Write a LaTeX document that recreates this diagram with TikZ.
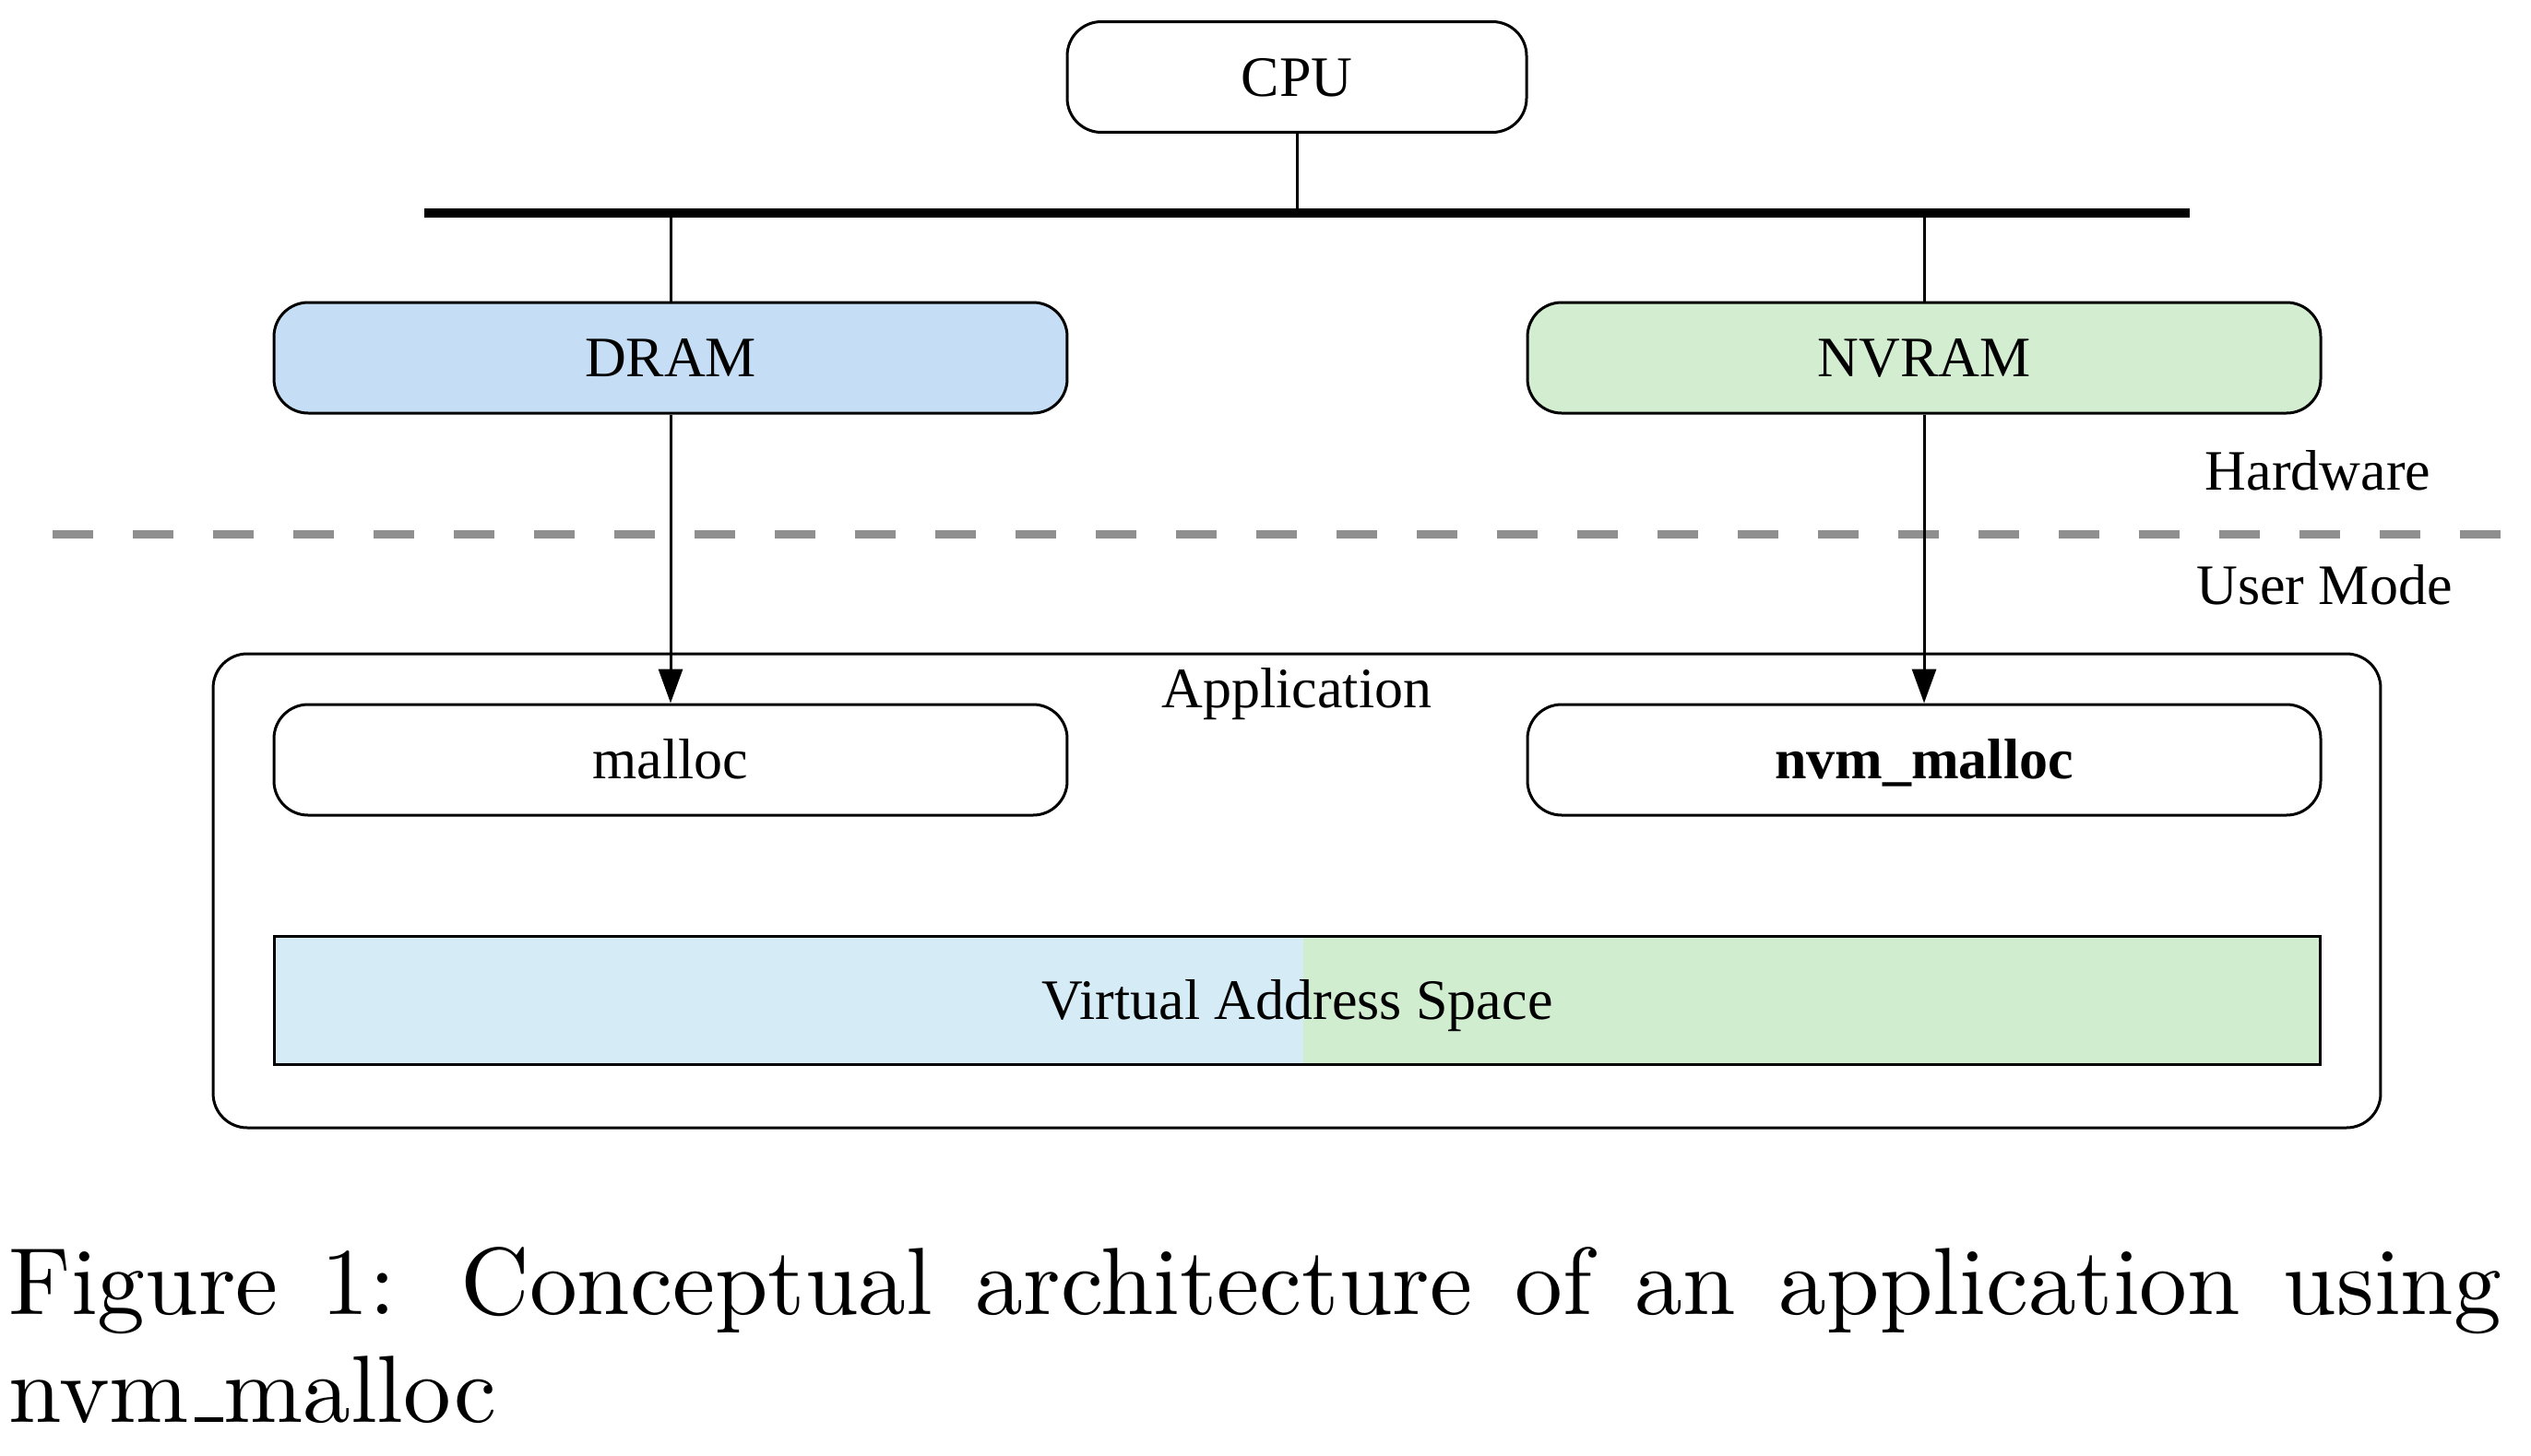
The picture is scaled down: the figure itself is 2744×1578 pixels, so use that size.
\documentclass[tikz,border=0pt]{standalone}
\usepackage{fontspec}
\usetikzlibrary{arrows.meta}
\newfontfamily\dfont{Liberation Serif}
\definecolor{dramblue}{RGB}{197,222,245}
\definecolor{nvgreen}{RGB}{211,237,208}
\definecolor{vasblue}{RGB}{213,235,246}
\definecolor{vasgreen}{RGB}{209,237,207}
\definecolor{dashgray}{RGB}{143,143,143}
\tikzset{
  dtext/.style={font=\dfont\fontsize{6.2}{7.4}\selectfont},
  box/.style={dtext, draw, line width=0.3pt, rounded corners=3.7pt,
    minimum height=12pt, inner sep=0pt, text height=4.1pt, text depth=0pt},
  memwide/.style={minimum width=86pt},
  conn/.style={line width=0.3pt},
  arr/.style={line width=0.3pt, -{Triangle[length=3.7pt,width=2.6pt]}},
  bus/.style={line width=1.03pt},
  divider/.style={dashgray, line width=0.9pt, dash pattern=on 4.4pt off 4.3pt},
  label/.style={dtext, inner sep=0pt, anchor=base}
}
\begin{document}
\begin{tikzpicture}[x=0.1pt, y=-0.1pt]
\useasboundingbox (0,0) rectangle (2744,1578);
% CPU and bus
\node[box, minimum width=49.8pt] (cpu) at (1406,83.5) {CPU};
\coordinate (busL) at (460,231);
\coordinate (busR) at (2374,231);
\draw[bus] (busL) -- (busR);
% memories
\node[box, memwide, fill=dramblue] (dram) at (727,388) {DRAM};
\node[box, memwide, fill=nvgreen] (nvram) at (2086,388) {NVRAM};
\draw[conn] (cpu.south) -- (cpu.south |- busL);
\draw[conn] (dram.north |- busL) -- (dram.north);
\draw[conn] (nvram.north |- busL) -- (nvram.north);
% divider
\coordinate (divL) at (57,579.5);
\coordinate (divR) at (2744,579.5);
\draw[divider] (divL) -- (divR);
\node[label] (hw) at (2513,531) {Hardware};
\node[label] (um) at (2520,655) {User Mode};
% application
\node[draw, line width=0.3pt, rounded corners=3.7pt, inner sep=0pt,
  minimum width=235pt, minimum height=51.4pt] (app) at (1406,966) {};
\node[label] (applabel) at (1406,767) {Application};
\node[box, memwide] (malloc) at (727,824) {malloc};
\node[box, memwide] (nvmalloc) at (2086,824) {\bfseries nvm\_malloc};
\draw[arr] (dram.south) -- (malloc.north);
\draw[arr] (nvram.south) -- (nvmalloc.north);
% virtual address space
\fill[vasblue] (297,1015) rectangle (1413,1154);
\fill[vasgreen] (1413,1015) rectangle (2516,1154);
\node[dtext, draw, line width=0.3pt, inner sep=0pt, minimum width=221.9pt,
  minimum height=13.9pt, text height=4.1pt, text depth=0pt] (vas) at (1406.5,1084.5) {Virtual Address Space};
% caption
\node[inner sep=0pt, anchor=base west] (caption) at (7.5,1425)
  {\parbox[t]{270.3pt}{\fontsize{10.35}{11.7}\selectfont\tolerance=9999\hyphenpenalty=10000
   Figure 1: Conceptual architecture of an application using\linebreak
   nvm\kern.06em\rule{.3em}{.5pt}malloc}};
\end{tikzpicture}
\end{document}
